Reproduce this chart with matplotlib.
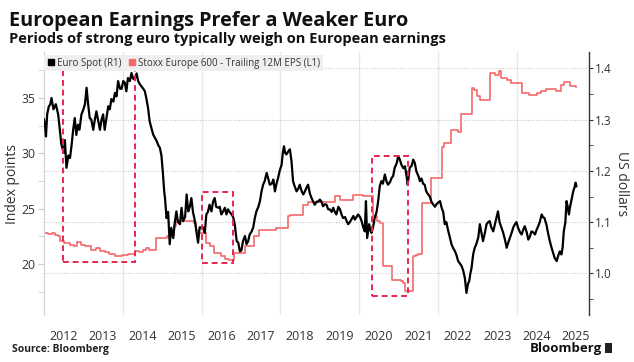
import matplotlib
matplotlib.use("Agg")
import matplotlib.pyplot as plt
from matplotlib.patches import Rectangle
from matplotlib.lines import Line2D
import numpy as np

plt.rcParams['font.family'] = ['Open Sans', 'DejaVu Sans']

# ---------------- data ----------------
euro_dates = [
2012.00,2012.03,2012.05,2012.08,2012.12,2012.16,2012.19,2012.24,2012.30,2012.36,2012.40,2012.44,2012.50,2012.53,2012.57,
2012.62,2012.66,2012.70,2012.74,2012.78,2012.82,2012.86,2012.90,2012.95,2013.00,2013.04,2013.08,2013.12,2013.16,2013.20,
2013.25,2013.29,2013.33,2013.37,2013.42,2013.46,2013.50,2013.54,2013.58,2013.63,2013.67,2013.71,2013.76,2013.80,2013.84,
2013.88,2013.93,2013.97,2014.01,2014.05,2014.09,2014.13,2014.18,2014.22,2014.26,2014.30,2014.35,2014.39,2014.43,2014.47,
2014.52,2014.56,2014.60,2014.64,2014.68,2014.72,2014.77,2014.81,2014.86,2014.90,2014.94,2014.98,2015.02,2015.05,2015.07,
2015.11,2015.15,2015.19,2015.23,2015.28,2015.32,2015.36,2015.40,2015.45,2015.49,2015.53,2015.58,2015.62,2015.66,2015.70,
2015.74,2015.78,2015.83,2015.87,2015.91,2015.95,2016.00,2016.04,2016.08,2016.12,2016.16,2016.20,2016.25,2016.29,2016.33,
2016.37,2016.42,2016.46,2016.50,2016.54,2016.59,2016.63,2016.67,2016.71,2016.76,2016.80,2016.84,2016.89,2016.93,2016.97,
2017.01,2017.05,2017.10,2017.14,2017.18,2017.22,2017.27,2017.31,2017.35,2017.39,2017.44,2017.48,2017.52,2017.56,2017.60,
2017.65,2017.69,2017.73,2017.78,2017.82,2017.86,2017.90,2017.94,2017.98,2018.03,2018.06,2018.09,2018.12,2018.15,2018.20,
2018.24,2018.28,2018.32,2018.36,2018.41,2018.45,2018.49,2018.54,2018.58,2018.62,2018.66,2018.70,2018.75,2018.79,2018.83,
2018.87,2018.92,2018.96,2019.00,2019.04,2019.08,2019.13,2019.17,2019.21,2019.25,2019.30,2019.34,2019.38,2019.42,2019.47,
2019.51,2019.55,2019.59,2019.64,2019.68,2019.72,2019.76,2019.80,2019.85,2019.89,2019.93,2019.97,2020.02,2020.06,2020.10,
2020.14,2020.17,2020.20,2020.25,2020.28,2020.31,2020.35,2020.39,2020.44,2020.48,2020.52,2020.56,2020.60,2020.65,2020.69,
2020.73,2020.78,2020.82,2020.86,2020.90,2020.95,2020.99,2021.03,2021.07,2021.12,2021.16,2021.20,2021.23,2021.28,2021.33,
2021.37,2021.41,2021.45,2021.50,2021.54,2021.58,2021.62,2021.66,2021.70,2021.75,2021.79,2021.83,2021.88,2021.92,2021.96,
2022.00,2022.05,2022.09,2022.13,2022.17,2022.21,2022.26,2022.30,2022.34,2022.38,2022.43,2022.47,2022.51,2022.55,2022.60,
2022.64,2022.68,2022.72,2022.76,2022.79,2022.82,2022.85,2022.89,2022.93,2022.97,2023.02,2023.06,2023.10,2023.14,2023.19,
2023.23,2023.27,2023.31,2023.35,2023.40,2023.44,2023.48,2023.52,2023.56,2023.61,2023.65,2023.70,2023.74,2023.78,2023.82,
2023.87,2023.91,2023.95,2023.99,2024.03,2024.08,2024.12,2024.16,2024.20,2024.25,2024.29,2024.33,2024.37,2024.42,2024.46,
2024.50,2024.54,2024.58,2024.63,2024.66,2024.70,2024.75,2024.79,2024.83,2024.88,2024.92,2024.96,2025.01,2025.05,2025.09,
2025.13,2025.16,2025.19,2025.23,2025.26,2025.29,2025.32,2025.35,2025.38,2025.43,2025.47,2025.49,2025.51]
euro_values = [
1.300,1.285,1.267,1.310,1.325,1.330,1.342,1.320,1.330,1.310,1.280,1.252,1.235,1.260,1.206,
1.230,1.225,1.250,1.280,1.303,1.270,1.290,1.280,1.310,1.320,1.330,1.362,1.330,1.303,1.300,
1.280,1.300,1.316,1.300,1.280,1.300,1.310,1.280,1.300,1.326,1.320,1.340,1.335,1.352,1.345,
1.375,1.360,1.360,1.375,1.372,1.355,1.381,1.375,1.391,1.380,1.378,1.390,1.375,1.369,1.365,
1.360,1.355,1.340,1.323,1.297,1.285,1.271,1.265,1.258,1.250,1.245,1.230,1.193,1.160,1.147,
1.108,1.120,1.057,1.089,1.069,1.100,1.121,1.100,1.096,1.128,1.102,1.110,1.154,1.121,1.130,
1.147,1.120,1.102,1.080,1.060,1.090,1.089,1.090,1.079,1.115,1.120,1.134,1.121,1.140,1.147,
1.130,1.128,1.130,1.115,1.120,1.128,1.115,1.125,1.120,1.115,1.110,1.096,1.063,1.060,1.043,
1.045,1.063,1.073,1.057,1.063,1.076,1.082,1.090,1.108,1.121,1.130,1.141,1.160,1.173,1.180,
1.196,1.185,1.173,1.175,1.183,1.160,1.175,1.186,1.200,1.212,1.235,1.248,1.235,1.232,1.238,
1.242,1.219,1.180,1.170,1.160,1.165,1.173,1.160,1.154,1.160,1.167,1.173,1.155,1.147,1.140,
1.134,1.140,1.140,1.144,1.140,1.131,1.135,1.134,1.125,1.125,1.120,1.128,1.120,1.115,1.130,
1.125,1.115,1.108,1.110,1.102,1.096,1.100,1.105,1.112,1.105,1.110,1.115,1.110,1.102,1.090,
1.082,1.141,1.069,1.096,1.085,1.079,1.090,1.108,1.120,1.141,1.170,1.180,1.175,1.193,1.180,
1.173,1.178,1.186,1.190,1.206,1.215,1.229,1.222,1.212,1.205,1.209,1.190,1.173,1.206,1.210,
1.222,1.215,1.199,1.190,1.180,1.185,1.175,1.173,1.160,1.154,1.150,1.140,1.134,1.130,1.135,
1.138,1.141,1.128,1.120,1.096,1.100,1.082,1.070,1.057,1.050,1.043,1.035,1.024,1.020,1.014,
1.005,0.991,0.962,0.980,0.985,1.000,1.011,1.037,1.050,1.057,1.070,1.096,1.080,1.063,1.080,
1.096,1.100,1.102,1.090,1.082,1.095,1.108,1.121,1.100,1.089,1.080,1.065,1.050,1.060,1.069,
1.080,1.090,1.096,1.100,1.089,1.080,1.076,1.085,1.092,1.080,1.066,1.072,1.082,1.080,1.076,
1.085,1.092,1.100,1.115,1.110,1.108,1.095,1.079,1.065,1.050,1.040,1.030,1.024,1.035,1.043,
1.037,1.050,1.082,1.100,1.141,1.130,1.115,1.130,1.141,1.160,1.170,1.177,1.170]

eps_dates = [
2012.00,2012.10,2012.20,2012.28,2012.36,2012.40,2012.50,2012.66,2012.75,2012.85,2012.95,2013.05,2013.18,2013.33,2013.42,
2013.55,2013.66,2013.80,2013.97,2014.12,2014.30,2014.40,2014.52,2014.60,2014.66,2014.84,2015.12,2015.22,2015.30,2015.36,
2015.80,2015.86,2015.92,2016.10,2016.22,2016.32,2016.48,2016.60,2016.70,2016.82,2017.10,2017.34,2017.46,2017.88,2018.20,
2018.25,2018.58,2018.70,2019.20,2019.38,2019.50,2019.84,2020.10,2020.35,2020.45,2020.52,2020.61,2020.84,2021.05,2021.12,
2021.16,2021.37,2021.45,2021.50,2021.58,2021.83,2022.10,2022.15,2022.34,2022.50,2022.57,2022.85,2022.90,2023.00,2023.07,
2023.33,2023.45,2023.55,2023.60,2023.75,2023.84,2024.14,2024.30,2024.50,2024.60,2024.74,2025.00,2025.13,2025.20,2025.35,
2025.51]
eps_values = [
22.80,22.75,22.80,22.66,22.50,22.06,21.90,21.76,21.60,21.97,21.76,21.60,21.30,21.46,21.15,
21.06,20.95,20.77,20.86,20.95,21.15,21.06,21.30,21.46,21.30,22.36,22.50,22.60,23.40,23.86,
23.70,23.10,22.80,21.90,21.60,21.00,20.70,20.47,20.40,21.00,21.60,22.50,23.10,23.27,24.30,
24.47,25.37,25.58,25.60,26.10,25.80,26.27,26.10,24.30,23.86,23.70,19.80,18.60,18.45,18.30,
17.55,20.70,20.86,20.95,25.50,27.80,30.60,30.94,32.14,31.90,33.50,35.90,35.75,35.15,34.85,
37.26,37.10,37.40,36.80,36.65,36.35,35.45,35.30,35.45,35.60,35.80,35.60,36.20,36.40,36.05,
36.00]

# strong-euro periods: (start, end, low USD, high USD)
periods = [(2012.48, 2014.32, 1.022, 1.401),
           (2016.00, 2016.79, 1.020, 1.158),
           (2020.32, 2021.23, 0.957, 1.229)]

years = list(range(2012, 2026))
grid_years = [2014, 2016, 2018, 2020, 2022, 2024]
left_major = [20, 25, 30, 35]
left_minor = [17.5, 22.5, 27.5, 32.5, 37.5]
right_major = [1.0, 1.1, 1.2, 1.3, 1.4]

title = "European Earnings Prefer a Weaker Euro"
subtitle = "Periods of strong euro typically weigh on European earnings"

# ---------------- figure ----------------
W, H = 634, 362
fig = plt.figure(figsize=(W / 100, H / 100), dpi=100)
ax_l, ax_r, ax_b, ax_t = 44, 589, 315, 52
ax = fig.add_axes([ax_l / W, 1 - ax_b / H, (ax_r - ax_l) / W, (ax_b - ax_t) / H])
ax2 = ax.twinx()

red = '#f26a6a'
box_col = '#e8264f'

ax.set_xlim(2012.0, 2025.83)
ax.set_ylim(15.4, 39.14)
ax2.set_ylim(0.919, 1.4317)

# vertical grid
for gy in grid_years:
    ax.axvline(gy, color='#e6e6e6', lw=0.9, zorder=0)
# horizontal dotted grid (right axis)
for rv in right_major:
    ax2.axhline(rv, color='#c8c8c8', lw=0.8, ls=(0, (1, 1.5)), zorder=0)

ax.plot(eps_dates, eps_values, color=red, lw=1.2, drawstyle='steps-post', zorder=2)
ax2.plot(euro_dates, euro_values, color='black', lw=1.6, zorder=3)

for (x0, x1, y0, y1) in periods:
    ax2.add_patch(Rectangle((x0, y0), x1 - x0, y1 - y0, fill=False,
                            edgecolor=box_col, lw=1.4, ls=(0, (3, 2)), zorder=4))

# axes styling
for a in (ax, ax2):
    for s in ('top', 'bottom'):
        a.spines[s].set_visible(False)
ax.spines['right'].set_visible(False)
ax2.spines['left'].set_visible(False)
ax.spines['left'].set_color('#d9cccc')
ax.spines['left'].set_linewidth(0.8)
ax2.spines['right'].set_color('#333333')
ax2.spines['right'].set_linewidth(1.0)

ax.set_xticks([y + 0.5 for y in years])
ax.set_xticklabels([str(y) for y in years])
ax.tick_params(axis='x', length=0, pad=11, labelsize=9, labelcolor='#333333')

ax.set_yticks(left_major)
ax.set_yticks(left_minor, minor=True)
ax.tick_params(axis='y', which='both', length=4, color='#cccccc', labelsize=8.8,
               labelcolor='#333333', pad=2)
ax2.set_yticks(right_major)
ax2.set_yticklabels([f"{v:.1f}" for v in right_major])
ax2.set_yticks([0.95, 1.05, 1.15, 1.25, 1.35], minor=True)
ax2.tick_params(axis='y', which='both', length=3, color='#333333', labelsize=8.5,
                labelcolor='#333333', pad=1.5)

ax.set_ylabel("Index points", fontsize=10, color='#333333', va='center')
ax.yaxis.set_label_coords(-0.058, 0.5)
ax2.set_ylabel("US dollars", fontsize=10, color='#333333', rotation=270, va='center')
ax2.yaxis.set_label_coords(1.06, 0.5)

# legend
handles = [Line2D([], [], color='black', marker='s', ls='none', markersize=5),
           Line2D([], [], color=red, marker='s', ls='none', markersize=5)]
leg = ax2.legend(handles, ["Euro Spot (R1)", "Stoxx Europe 600 - Trailing 12M EPS (L1)"],
                 loc='upper left', bbox_to_anchor=(0.0, 0.99), ncol=2, fontsize=7.0,
                 frameon=True, fancybox=False, borderaxespad=0, handlelength=0.8,
                 handletextpad=0.2, columnspacing=0.7, borderpad=0.3, labelcolor='#333333')
leg.get_frame().set_facecolor('#efefef')
leg.get_frame().set_edgecolor('none')
leg.get_frame().set_alpha(1)
leg.set_zorder(10)

# titles
fig.text(9 / W, 1 - 26 / H, title, fontsize=14.3, fontweight='bold', ha='left', va='baseline', color='#111111')
fig.text(9 / W, 1 - 43 / H, subtitle, fontsize=10.5, fontweight='bold', ha='left', va='baseline', color='#111111')
fig.text(12 / W, 1 - 352 / H, "Source: Bloomberg", fontsize=7.5, fontweight='bold', ha='left', va='baseline', color='#222222')
fig.text(602 / W, 1 - 352 / H, "Bloomberg", fontsize=9.5, fontweight='bold', ha='right', va='baseline', color='#111111')
fig.patches.append(Rectangle((605 / W, 1 - 353 / H), 7 / W, 10 / H, transform=fig.transFigure,
                             facecolor='#222222', edgecolor='none'))

fig.savefig("out.png", dpi=100)
